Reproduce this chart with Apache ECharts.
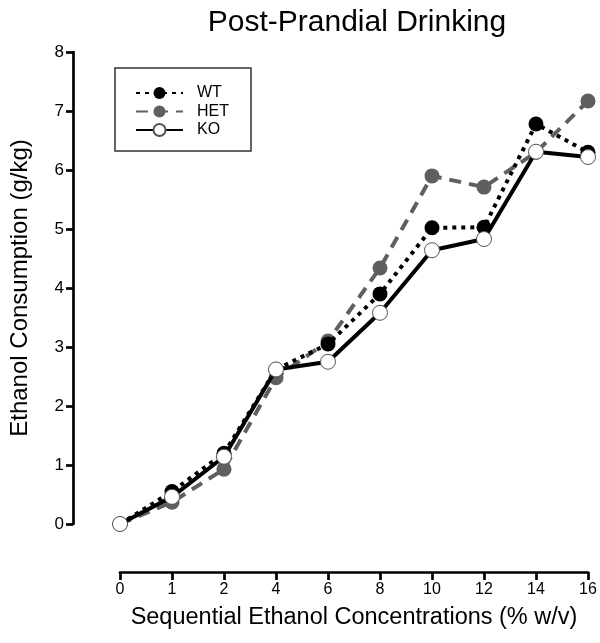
<!DOCTYPE html>
<html>
<head>
<meta charset="utf-8">
<script src="https://cdn.jsdelivr.net/npm/echarts@6/dist/echarts.min.js"></script>
<style>html,body{margin:0;padding:0;background:#fff}#c{width:600px;height:643px}</style>
</head>
<body>
<div id="c"></div>
<script>
const categories = ['0','1','2','4','6','8','10','12','14','16'];
const wtValues  = [0, 0.55, 1.20, 2.62, 3.05, 3.90, 5.02, 5.03, 6.78, 6.30];
const hetValues = [0, 0.37, 0.93, 2.48, 3.10, 4.34, 5.90, 5.71, 6.30, 7.17];
const koValues  = [0, 0.46, 1.14, 2.62, 2.75, 3.58, 4.64, 4.83, 6.31, 6.22];
const yTicks = [0,1,2,3,4,5,6,7,8];

const font = '"Liberation Sans", Arial, sans-serif';
const chart = echarts.init(document.getElementById('c'));
chart.setOption({
  animation: false,
  backgroundColor: '#fff',
  title: {
    text: 'Post-Prandial Drinking',
    left: 352, top: 3, textAlign: 'center',
    textStyle: {fontFamily: font, fontWeight: 'normal', fontSize: 30, color: '#000'}
  },
  legend: {
    left: 115, top: 68,
    orient: 'vertical',
    data: ['WT','HET','KO'],
    borderColor: '#333', borderWidth: 1.5,
    padding: [17, 22, 13, 20],
    itemGap: 2.5,
    itemWidth: 47, itemHeight: 15,
    textStyle: {fontFamily: font, fontSize: 16, color: '#000', padding: [0, 0, 0, 9]}
  },
  grid: {left: 115, right: 12, top: 52, bottom: 119},
  xAxis: {
    type: 'category', data: categories, boundaryGap: false,
    offset: 48,
    axisLine: {onZero: false, lineStyle: {color: '#000', width: 2.7}},
    axisTick: {length: 8, lineStyle: {width: 2.7, color: '#000'}},
    axisLabel: {fontFamily: font, fontSize: 16, color: '#000', margin: 10},
    name: 'Sequential Ethanol Concentrations (% w/v)',
    nameLocation: 'middle', nameGap: 34,
    nameTextStyle: {fontFamily: font, fontSize: 23.5, color: '#000'},
    splitLine: {show: false}
  },
  yAxis: {
    type: 'value', min: 0, max: 8, interval: 1,
    offset: 47,
    axisLine: {show: true, lineStyle: {color: '#000', width: 2.7}},
    axisTick: {show: true, length: 7, lineStyle: {width: 2.7, color: '#000'}},
    axisLabel: {fontFamily: font, fontSize: 17, color: '#000', margin: 9,
      formatter: v => yTicks.includes(v) ? String(v) : ''},
    splitLine: {show: false},
    name: 'Ethanol Consumption (g/kg)',
    nameLocation: 'middle', nameGap: 41, nameRotate: 90,
    nameTextStyle: {fontFamily: font, fontSize: 24, color: '#000'}
  },
  series: [
    {
      name: 'HET', type: 'line', data: hetValues,
      symbol: 'circle', symbolSize: 15,
      lineStyle: {color: '#5f5f5f', width: 4, type: [12, 8]},
      itemStyle: {color: '#5f5f5f', borderColor: '#5f5f5f', borderWidth: 0},
      z: 2
    },
    {
      name: 'WT', type: 'line', data: wtValues,
      symbol: 'circle', symbolSize: 15,
      lineStyle: {color: '#000', width: 4, type: [4, 5]},
      itemStyle: {color: '#000', borderColor: '#000', borderWidth: 0},
      z: 3
    },
    {
      name: 'KO', type: 'line', data: koValues,
      symbol: 'circle', symbolSize: 15,
      lineStyle: {color: '#000', width: 4, type: 'solid'},
      itemStyle: {color: '#fff', borderColor: '#555', borderWidth: 1},
      z: 4
    }
  ]
});
</script>
</body>
</html>
